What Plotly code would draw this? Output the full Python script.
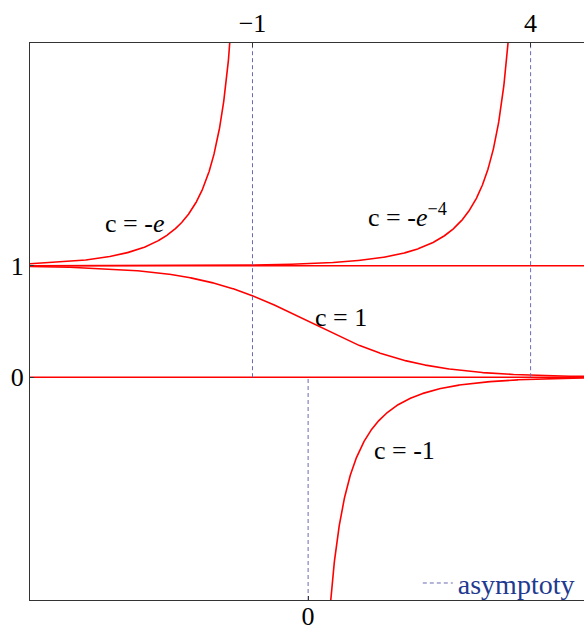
import numpy as np
import plotly.graph_objects as go

# Family of solutions y = 1 / (1 + c·e^x)
E = np.e
c_values = [-E, -E ** -4, 1.0, -1.0]
c_labels = ["c = -<i>e</i>", "c = -<i>e</i><sup>−4</sup>", "c = 1", "c = -1"]
# x-interval of the plotted branch for each c
branch_from = [-5.0, -5.0, -5.0, 0.2]
branch_to = [-1.25, 3.75, 4.96, 4.96]

# Constant solutions
const_levels = [1.0, 0.0]

# Vertical asymptotes x = -ln(-c) and the y-span drawn for each
asym_x = [-1.0, 4.0, 0.0]
asym_y0 = [0.0, 0.0, -2.0]
asym_y1 = [3.0, 3.0, 0.0]

x_range = [-5.0, 4.96]
y_range = [-2.0, 3.0]

RED = "#ff0000"
DASH_BLUE = "#6a6ab4"
SERIF = "Liberation Serif"

fig = go.Figure()

for c, a, b in zip(c_values, branch_from, branch_to):
    xs = np.linspace(a, b, 1200)
    ys = 1.0 / (1.0 + c * np.exp(xs))
    fig.add_trace(go.Scatter(x=xs, y=ys, mode="lines",
                             line=dict(color=RED, width=1.6),
                             showlegend=False, hoverinfo="skip"))

for level in const_levels:
    fig.add_trace(go.Scatter(x=x_range, y=[level, level], mode="lines",
                             line=dict(color=RED, width=1.6),
                             showlegend=False, hoverinfo="skip"))

for i, (xa, y0, y1) in enumerate(zip(asym_x, asym_y0, asym_y1)):
    fig.add_trace(go.Scatter(x=[xa, xa], y=[y0, y1], mode="lines",
                             line=dict(color=DASH_BLUE, width=1, dash="4px,3px"),
                             name="asymptoty", legendgroup="asym",
                             showlegend=(i == 0), hoverinfo="skip",
                             xaxis="x2"))

# Curve labels
label_pos = [(-3.13, 1.38), (1.78, 1.45), (0.6, 0.54), (1.74, -0.66)]
for text, (lx, ly) in zip(c_labels, label_pos):
    fig.add_annotation(x=lx, y=ly, text=text, showarrow=False,
                       font=dict(family=SERIF, size=26, color="black"))

axis_common = dict(range=x_range, showgrid=False, zeroline=False,
                   showline=True, linecolor="#333333", linewidth=1,
                   ticks="inside", ticklen=4, tickcolor="#333333",
                   automargin=False,
                   tickfont=dict(family=SERIF, size=26, color="black"))

fig.update_layout(
    width=584, height=630,
    margin=dict(l=30, r=0, t=43, b=30),
    paper_bgcolor="white", plot_bgcolor="white",
    xaxis=dict(**axis_common, tickvals=[0], ticktext=["0"],
               ticklabelstandoff=-7),
    xaxis2=dict(**axis_common, overlaying="x", side="top",
                tickvals=[-1, 4], ticktext=["−1", "4"]),
    yaxis=dict(range=y_range, showgrid=False, zeroline=False,
               showline=True, linecolor="#333333", linewidth=1,
               ticks="inside", ticklen=4, tickcolor="#333333",
               automargin=False,
               tickvals=[0, 1], ticktext=["0", "1"],
               tickfont=dict(family=SERIF, size=26, color="black")),
    legend=dict(x=0.70, y=0.03, xanchor="left", yanchor="middle",
                bgcolor="rgba(0,0,0,0)", borderwidth=0,
                font=dict(family=SERIF, size=28, color="#1f3a8f")),
    showlegend=True,
)

fig.write_html("out.html")
